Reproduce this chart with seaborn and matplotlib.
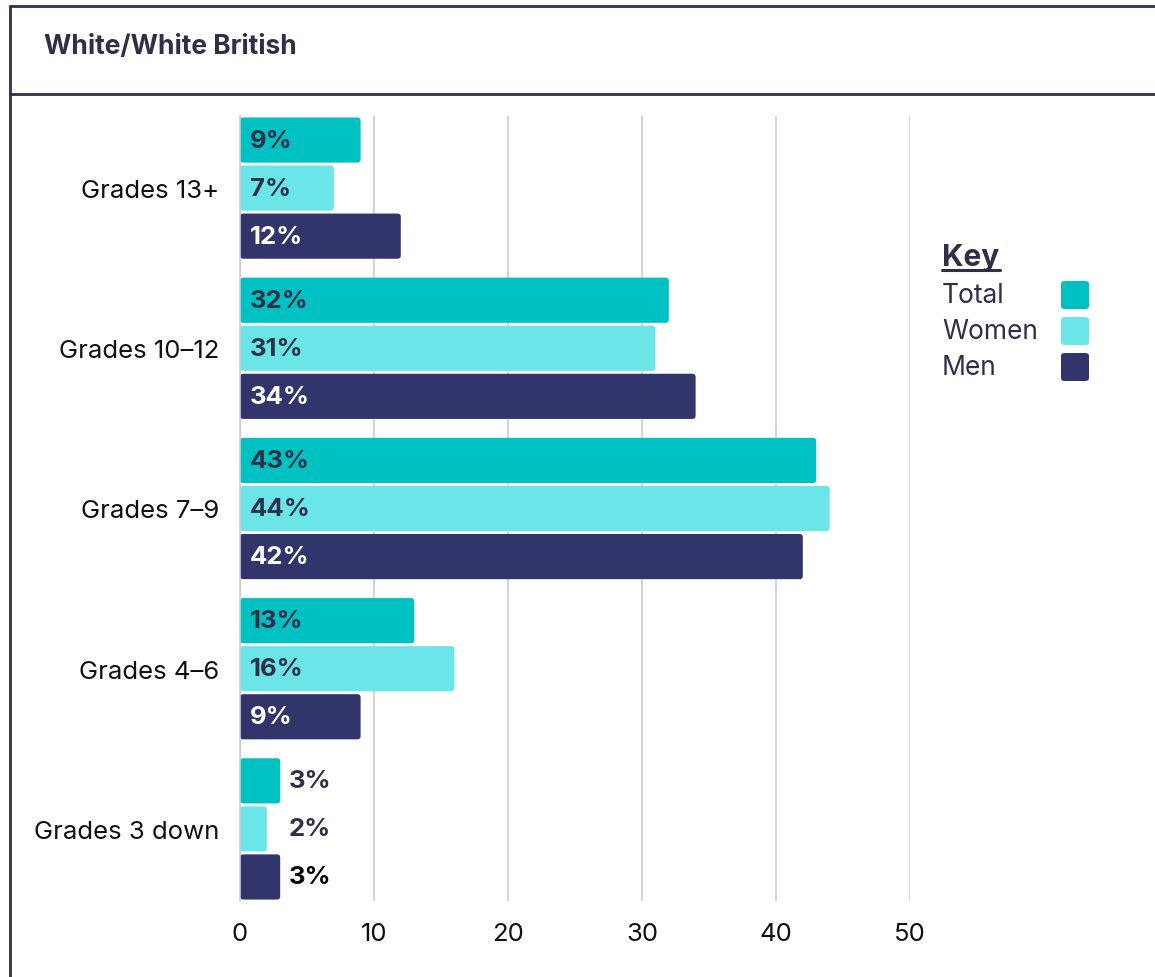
import matplotlib
matplotlib.use("Agg")
import matplotlib.pyplot as plt
import seaborn as sns
import pandas as pd
from matplotlib.patches import FancyBboxPatch
from matplotlib.lines import Line2D

# ---- data -------------------------------------------------------------
categories = ["Grades 13+", "Grades 10–12", "Grades 7–9", "Grades 4–6", "Grades 3 down"]
groups = ["Total", "Women", "Men"]
total = [9, 32, 43, 13, 3]
women = [7, 31, 44, 16, 2]
men = [12, 34, 42, 9, 3]
x_ticks = [0, 10, 20, 30, 40, 50]
title = "White/White British"
key_title = "Key"

palette = {"Total": "#00C1C1", "Women": "#6BE5E8", "Men": "#31356B"}
label_colors = {"Total": "#2E3049", "Women": "#2E3049", "Men": "#FFFFFF"}
ink = "#2E3049"

df = pd.DataFrame({
    "grade": categories * 3,
    "group": [g for g in groups for _ in categories],
    "value": total + women + men,
})

sns.set_theme(style="white")
plt.rcParams["font.family"] = ["Inter", "DejaVu Sans"]

W, H = 1155, 978
fig = plt.figure(figsize=(W / 100, H / 100), dpi=100)
fig.patch.set_facecolor("white")

# card frame
for xs, ys in [([10, 10], [0, 971]), ([10, W], [971, 971]), ([10, W], [883, 883])]:
    fig.add_artist(Line2D([x / W for x in xs], [y / H for y in ys],
                          color=ink, lw=2, transform=fig.transFigure))
fig.text(44 / W, (H - 47) / H, title, fontsize=19, fontweight="bold",
         color=ink, va="center", ha="left")

ax = fig.add_axes([240 / W, (H - 902) / H, 670 / W, 785 / H])
sns.barplot(data=df, y="grade", x="value", hue="group", order=categories,
            hue_order=groups, palette=palette, orient="h", width=0.9, gap=0.06,
            saturation=1, legend=False, ax=ax, zorder=2)

ax.set_xlim(0, 50)
ax.set_ylim(4.45, -0.45)
ax.set_xticks(x_ticks)
ax.set_xlabel("")
ax.set_ylabel("")
ax.grid(axis="x", color="#CCCCCC", lw=1.2, zorder=0)
ax.set_axisbelow(True)
for s in ["top", "right", "bottom"]:
    ax.spines[s].set_visible(False)
ax.spines["left"].set_color("#CCCCCC")
ax.spines["left"].set_linewidth(1.2)
ax.tick_params(axis="both", length=0, labelsize=18.5, colors="#111111")
ax.tick_params(axis="x", pad=15)
ax.tick_params(axis="y", pad=15)

# rounded bar ends
for cont, g in zip(ax.containers, groups):
    for bar in list(cont):
        x0, y0 = bar.get_x(), bar.get_y()
        w, h = bar.get_width(), bar.get_height()
        rb = FancyBboxPatch((x0, y0), w, h,
                            boxstyle="round,pad=0,rounding_size=0.25",
                            mutation_aspect=0.08,
                            facecolor=bar.get_facecolor(), edgecolor="none",
                            zorder=2)
        bar.set_visible(False)
        ax.add_patch(rb)

# value labels
for cont, g in zip(ax.containers, groups):
    for bar, cat in zip(cont, categories):
        v = bar.get_width()
        yc = bar.get_y() + bar.get_height() / 2
        if v >= 5:
            ax.text(0.75, yc, f"{v:.0f}%", color=label_colors[g], fontsize=18.5,
                    fontweight="bold", va="center", ha="left", zorder=3)
        else:
            i = categories.index(cat)
            gmax = max(total[i], women[i], men[i])
            col = "#000000" if g == "Men" else ink
            ax.text(gmax + 0.65, yc, f"{v:.0f}%", color=col, fontsize=18.5,
                    fontweight="bold", va="center", ha="left", zorder=3)

# key
fig.text(942 / W, (H - 258) / H, key_title, fontsize=21.5, fontweight="bold",
         color=ink, va="center", ha="left")
fig.add_artist(Line2D([942 / W, 1000 / W], [(H - 271) / H, (H - 271) / H],
                      color=ink, lw=2.2, transform=fig.transFigure))
for i, g in enumerate(groups):
    yc = 296 + 36 * i
    fig.text(942 / W, (H - yc) / H, g, fontsize=19, color=ink,
             va="center", ha="left")
    fig.add_artist(FancyBboxPatch((1061 / W, (H - yc - 14) / H), 28 / W, 28 / H,
                                  boxstyle="round,pad=0,rounding_size=0.003",
                                  transform=fig.transFigure,
                                  facecolor=palette[g], edgecolor="none"))

fig.savefig("out.png", dpi=100)
